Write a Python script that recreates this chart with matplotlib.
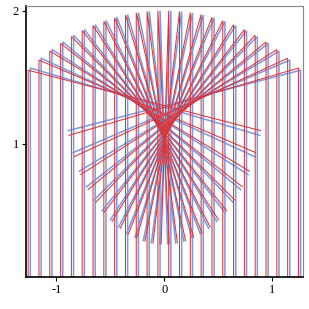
import numpy as np
from matplotlib import pyplot as plt

# incoming vertical rays (x positions), mirror radius, total path length
ray_x = [-1.25, -1.15, -1.05, -0.95, -0.85, -0.75, -0.65, -0.55, -0.45,
         -0.35, -0.25, -0.15, -0.05, 0.05, 0.15, 0.25, 0.35, 0.45, 0.55,
         0.65, 0.75, 0.85, 0.95, 1.05, 1.15, 1.25]
radius = 2.0
path_len = 3.75
shift = {"blue": 0.01, "red": -0.01}
colors = {"blue": "#7f97dc", "red": "#d9363a"}
widths = {"blue": 1.1, "red": 0.75}

plt.rcParams['font.family'] = ['Liberation Serif', 'DejaVu Serif']
fig = plt.figure(figsize=(3.09, 3.09), dpi=100)
ax = fig.add_axes([26/309, 1 - 277.3/309, (303.3-26)/309, (277.3-6)/309])

for name in ["blue", "red"]:
    for x in ray_x:
        x0 = x + shift[name]
        y0 = np.sqrt(radius**2 - x0**2)
        # reflect direction (0,1) at the circle point
        nx, ny = x0 / radius, y0 / radius
        dx, dy = -2 * ny * nx, 1 - 2 * ny * ny
        L = path_len - y0
        xs = [x0, x0, x0 + L * dx]
        ys = [0, y0, y0 + L * dy]
        ax.plot(xs, ys, color=colors[name], lw=widths[name],
                solid_joinstyle='miter')

ax.set_xlim(-1.28, 1.285)
ax.set_ylim(0, 2.035)
ax.set_xticks([-1, 0, 1])
ax.set_xticklabels(['-1', '0', '1'])
ax.set_yticks([1, 2])
ax.tick_params(labelsize=9, length=3, width=0.8, pad=2)
for s in ['left', 'bottom']:
    ax.spines[s].set_linewidth(1.2)
for s in ['top', 'right']:
    ax.spines[s].set_color('#888888')
    ax.spines[s].set_linewidth(0.8)

fig.savefig('out.png', dpi=100)
